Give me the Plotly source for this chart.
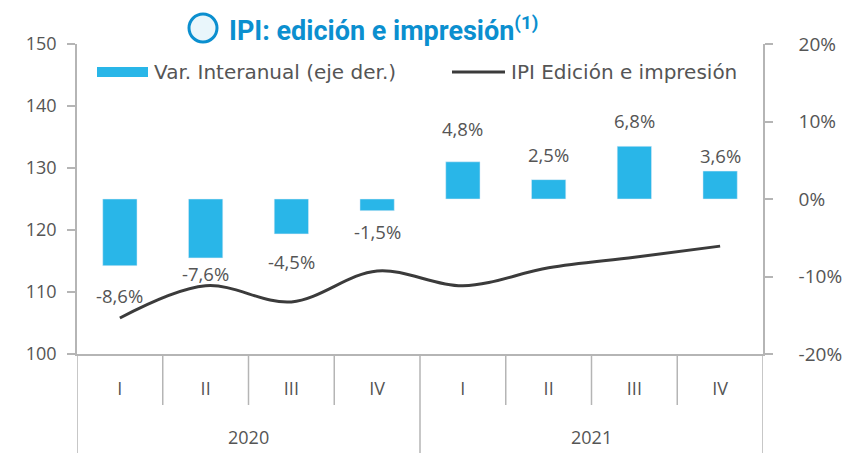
import plotly.graph_objects as go

quarters = ["I", "II", "III", "IV", "I", "II", "III", "IV"]
years = ["2020", "2021"]
var_interanual = [-8.6, -7.6, -4.5, -1.5, 4.8, 2.5, 6.8, 3.6]
ipi_index = [105.8, 111.0, 108.4, 113.4, 111.0, 113.9, 115.6, 117.4]
bar_labels = ["-8,6%", "-7,6%", "-4,5%", "-1,5%", "4,8%", "2,5%", "6,8%", "3,6%"]
left_ticks = [100, 110, 120, 130, 140, 150]
right_ticks = [-20, -10, 0, 10, 20]
right_ticktext = ["-20%", "-10%", "0%", "10%", "20%"]

# styling: pixel gap between bar end and label centre
label_gap = [30, 16, 28, 21, 33, 25, 26, 16]

W, H = 858, 453
L, R, T, B = 77, 763, 44, 354
pw, ph = R - L, B - T

def px(x):
    return (x - L) / pw

def py(y):
    return (B - y) / ph

BLUE = "#29b6e8"
LINE = "#3b3b3b"
GRAY = "#555555"
AX = "#b5b5b5"
FONT = "Open Sans"
LFONT = "DejaVu Sans"

xs = list(range(len(quarters)))

fig = go.Figure()
fig.add_trace(go.Bar(x=xs, y=var_interanual, yaxis="y2", marker_color=BLUE,
                     width=0.40, name="Var. Interanual (eje der.)", showlegend=False))
fig.add_trace(go.Scatter(x=xs, y=ipi_index, mode="lines", line=dict(color=LINE, width=3, shape="spline", smoothing=1.0),
                         name="IPI Edición e impresión", showlegend=False))

annotations = []
for i, (v, t) in enumerate(zip(var_interanual, bar_labels)):
    annotations.append(dict(x=i, y=v, xref="x", yref="y2", text=t, showarrow=False,
                            yshift=label_gap[i] if v > 0 else -label_gap[i],
                            font=dict(size=18.5, color=GRAY, family=FONT)))

# year labels
for k, yr in enumerate(years):
    annotations.append(dict(x=1.5 + 4 * k, y=py(437), xref="x", yref="paper", text=yr, showarrow=False,
                            yanchor="middle", font=dict(size=18, color=GRAY, family=FONT)))

# title
annotations.append(dict(x=px(227), y=py(29), xref="paper", yref="paper", xanchor="left", yanchor="middle",
                        text="<b>IPI: edición e impresión<sup>(1)</sup></b>", showarrow=False,
                        font=dict(size=27, color="#0b8fcf", family="Roboto")))

# legend texts
annotations.append(dict(x=px(152), y=py(72), xref="paper", yref="paper", xanchor="left", yanchor="middle",
                        text="Var. Interanual (eje der.)", showarrow=False, font=dict(size=20, color=GRAY, family=LFONT)))
annotations.append(dict(x=px(509), y=py(72), xref="paper", yref="paper", xanchor="left", yanchor="middle",
                        text="IPI Edición e impresión", showarrow=False, font=dict(size=20, color=GRAY, family=LFONT)))

shapes = []
# legend symbols
shapes.append(dict(type="rect", xref="paper", yref="paper", x0=px(97), x1=px(148), y0=py(77), y1=py(67),
                   fillcolor=BLUE, line=dict(width=0)))
shapes.append(dict(type="line", xref="paper", yref="paper", x0=px(452), x1=px(505), y0=py(72), y1=py(72),
                   line=dict(color=LINE, width=3)))
# title circle
shapes.append(dict(type="circle", xref="paper", yref="paper", x0=px(189), x1=px(217), y0=py(42), y1=py(14),
                   fillcolor="#e9f6fb", line=dict(color="#0b8fcf", width=3)))
# separators
for b in [0.5, 1.5, 2.5, 4.5, 5.5, 6.5]:
    shapes.append(dict(type="line", xref="x", yref="paper", x0=b, x1=b, y0=0, y1=py(405),
                       line=dict(color=AX, width=1.5)))
for b in [-0.5, 3.5, 7.5]:
    shapes.append(dict(type="line", xref="x", yref="paper", x0=b, x1=b, y0=0, y1=py(453),
                       line=dict(color=AX, width=1.5)))

fig.update_layout(
    width=W, height=H,
    margin=dict(l=L, r=W - R, t=T, b=H - B),
    paper_bgcolor="white", plot_bgcolor="white",
    showlegend=False,
    annotations=annotations,
    shapes=shapes,
    xaxis=dict(range=[-0.5, 7.5], tickvals=xs, ticktext=quarters, showgrid=False, zeroline=False,
               showline=True, linecolor=AX, linewidth=2, ticks="",
               ticklabelstandoff=17, tickfont=dict(size=18, color=GRAY, family=FONT)),
    yaxis=dict(range=[100, 150], tickvals=left_ticks, showgrid=False, zeroline=False, showline=True,
               linecolor=AX, linewidth=1.5, ticks="outside", ticklen=8, tickcolor=AX, tickwidth=1.5,
               ticklabelstandoff=7, tickfont=dict(size=18, color=GRAY, family=FONT)),
    yaxis2=dict(range=[-20, 20], tickvals=right_ticks, ticktext=right_ticktext, overlaying="y", side="right",
                showgrid=False, zeroline=False,
                showline=True, linecolor=AX, linewidth=1.5, ticks="outside", ticklen=8, tickcolor=AX,
                tickwidth=1.5, ticklabelstandoff=22,
                tickfont=dict(size=19, color=GRAY, family=FONT)),
)

fig.write_html("out.html", config={"displayModeBar": False},
               post_script="document.body.style.margin='0px';document.body.style.overflow='hidden';")
